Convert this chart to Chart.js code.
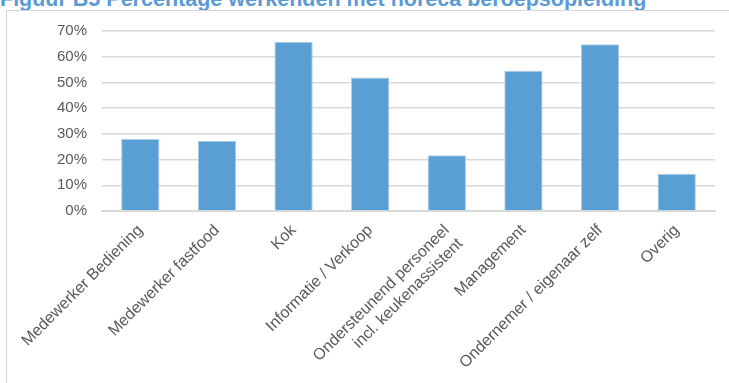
<!DOCTYPE html>
<html>
<head>
<meta charset="utf-8">
<script src="https://cdn.jsdelivr.net/npm/chart.js@4/dist/chart.umd.min.js"></script>
<style>
    html, body { margin: 0; padding: 0; background: #fff; }
    body { width: 729px; height: 383px; position: relative; overflow: hidden; }
    #titel {
        position: absolute; left: 0; top: -13px;
        font: bold 21.5px "Liberation Sans", Arial, sans-serif;
        color: #5b9bd5; white-space: nowrap;
    }
    #kader {
        position: absolute; left: 6px; top: 10px; right: -10px; bottom: -10px;
        border-top: 1px solid #d6d6d6; border-left: 1px solid #d6d6d6;
    }
    #grafiek { position: absolute; left: 0; top: 0; }
</style>
</head>
<body>
<div id="titel">Figuur B5 Percentage werkenden met horeca beroepsopleiding</div>
<div id="kader"></div>
<canvas id="grafiek" width="729" height="383"></canvas>
<script>
const beroepen = [
    'Medewerker Bediening',
    'Medewerker fastfood',
    'Kok',
    'Informatie / Verkoop',
    ['Ondersteunend personeel', 'incl. keukenassistent'],
    'Management',
    'Ondernemer / eigenaar zelf',
    'Overig'
];
const percentages = [28.0, 27.3, 65.8, 51.9, 21.7, 54.5, 64.8, 14.5];
const yTicks = [0, 10, 20, 30, 40, 50, 60, 70];

const grijs = '#595959';
const lettertype = '"Liberation Sans", Arial, sans-serif';

document.addEventListener('DOMContentLoaded', function() {
    const ctx = document.getElementById('grafiek').getContext('2d');
    new Chart(ctx, {
        type: 'bar',
        data: {
            labels: beroepen,
            datasets: [{
                label: 'Percentage',
                data: percentages,
                backgroundColor: '#5a9fd4',
                borderColor: '#a8cdeb',
                borderWidth: 1,
                barPercentage: 0.5,
                categoryPercentage: 1
            }]
        },
        options: {
            responsive: false,
            animation: false,
            layout: { padding: { top: 31, right: 14, left: 0, bottom: 0 } },
            plugins: {
                legend: { display: false },
                tooltip: { enabled: false }
            },
            scales: {
                x: {
                    grid: { display: false, drawTicks: false },
                    border: { display: true, color: '#d9d9d9', width: 2 },
                    ticks: {
                        color: grijs,
                        font: { family: lettertype, size: 16 },
                        minRotation: 45,
                        maxRotation: 45,
                        autoSkip: false,
                        padding: 10
                    },
                    afterFit: function(scale) { scale.height = 172; }
                },
                y: {
                    min: 0,
                    max: 70,
                    afterBuildTicks: function(scale) {
                        scale.ticks = yTicks.map(v => ({ value: v }));
                    },
                    grid: { color: '#d9d9d9', lineWidth: 1.5, drawTicks: false },
                    border: { display: false },
                    ticks: {
                        color: grijs,
                        font: { family: lettertype, size: 15 },
                        padding: 15,
                        callback: v => v + '%'
                    },
                    afterFit: function(scale) { scale.width = 102; }
                }
            }
        }
    });
});
</script>
</body>
</html>
